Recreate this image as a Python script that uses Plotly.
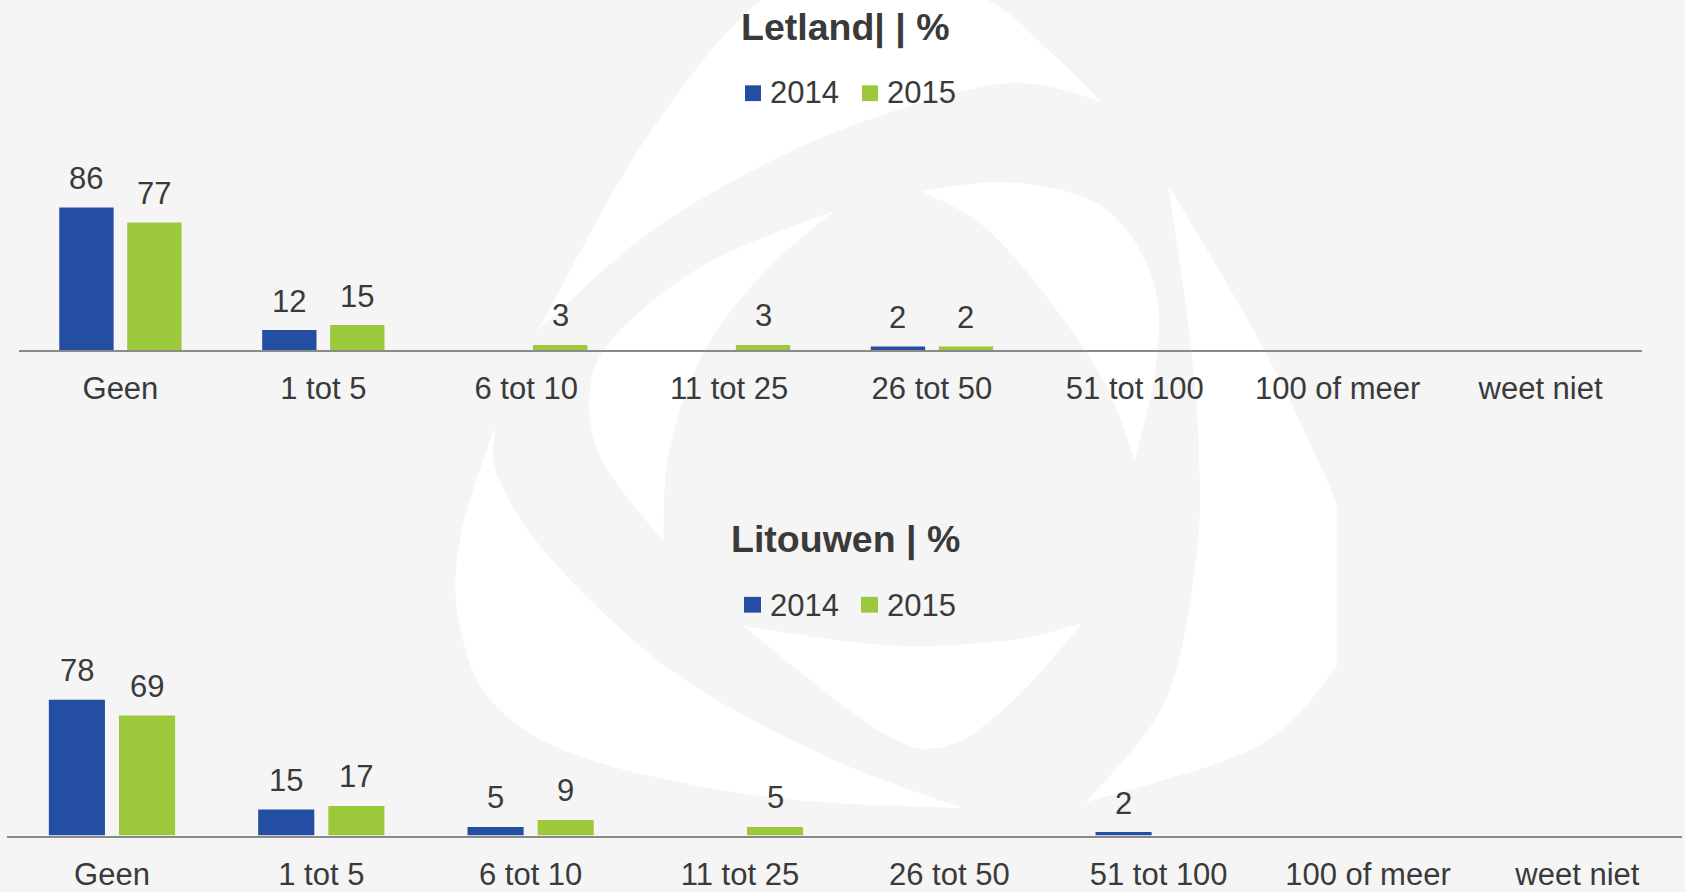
import plotly.graph_objects as go

W, H = 1685, 892

# ---------------- data ----------------
categories = ["Geen", "1 tot 5", "6 tot 10", "11 tot 25", "26 tot 50",
              "51 tot 100", "100 of meer", "weet niet"]
series_names = ["2014", "2015"]
letland_2014 = [86, 12, None, None, 2, None, None, None]
letland_2015 = [77, 15, 3, 3, 2, None, None, None]
litouwen_2014 = [78, 15, 5, None, None, 2, None, None]
litouwen_2015 = [69, 17, 9, 5, None, None, None, None]
titles = ["Letland| | %", "Litouwen | %"]

# ---------------- style ----------------
BLUE = "#244EA1"
GREEN = "#9CC93B"
TEXT = "#3a3a3a"
AXIS = "#8a8a8a"
BG = "#f5f5f5"
FONT = "Liberation Sans, Arial, sans-serif"
colors = [BLUE, GREEN]


def px(x):
    return x / W


def py(y):
    return 1 - y / H


YMAX = 120
BARGAP = 0.33
GROUPGAP = 0.2

panels = [
    dict(title=titles[0], s=[letland_2014, letland_2015], x0=19, x1=1642,
         axis_y=354.7, ppu=1.679, title_y=27.5, leg_y=93.5,
         leg_sq=[(745, 86.5, 761, 102.5), (862, 86.5, 878, 102.5)], leg_tx=[768, 885]),
    dict(title=titles[1], s=[litouwen_2014, litouwen_2015], x0=7.3, x1=1682,
         axis_y=847, ppu=1.766, title_y=546.5, leg_y=614,
         leg_sq=[(744, 605, 761, 621), (861, 605, 878, 621)], leg_tx=[768, 885]),
]

fig = go.Figure()
annotations = []
shapes = []

# ---------------- decorative watermark ----------------
def catmull(points):
    segs = []
    n = len(points)
    for i in range(n - 1):
        p0 = points[i - 1] if i > 0 else points[i]
        p1 = points[i]
        p2 = points[i + 1]
        p3 = points[i + 2] if i + 2 < n else points[i + 1]
        c1 = (p1[0] + (p2[0] - p0[0]) / 6, p1[1] + (p2[1] - p0[1]) / 6)
        c2 = (p2[0] - (p3[0] - p1[0]) / 6, p2[1] - (p3[1] - p1[1]) / 6)
        segs.append(f"C {px(c1[0]):.5f},{py(c1[1]):.5f} {px(c2[0]):.5f},{py(c2[1]):.5f} "
                    f"{px(p2[0]):.5f},{py(p2[1]):.5f}")
    return " ".join(segs)


def blade(edges):
    start = edges[0][0]
    d = f"M {px(start[0]):.5f},{py(start[1]):.5f} "
    for e in edges:
        if isinstance(e, str):
            d += e + " "
        else:
            d += catmull(e) + " "
    return d + "Z"


def L(p):
    return f"L {px(p[0]):.5f},{py(p[1]):.5f}"


wm = []
# top outer blade
wm.append(blade([
    [(537.8, 335.6), (644.9, 142.2), (761.2, 0), (875, -45), (987.7, 0), (1042.8, 45.5), (1101, 102.4)],
    [(1101, 102.4), (1012.2, 84.2), (889.8, 113.8), (767.3, 165), (644.9, 238.9), (537.8, 335.6)],
]))
# right outer blade
wm.append(blade([
    [(1168.3, 187.7), (1257, 341), (1318, 466.5), (1336.7, 512)],
    L((1336.7, 677)),
    [(1336.7, 677), (1257, 756.6), (1085.7, 813.5)],
    [(1085.7, 813.5), (1165, 711), (1195.9, 568.9), (1198.9, 455), (1189.7, 341), (1168.3, 187.7)],
]))
# bottom-left outer blade
wm.append(blade([
    [(494.9, 432.4), (461.2, 540.5), (458.2, 625.8), (491.8, 711), (583.7, 768), (767.3, 807.8), (963.2, 819.2)],
    [(963.2, 819.2), (828.5, 768), (675.5, 682.7), (553, 568.9), (498, 483.6), (494.9, 432.4)],
]))
# inner crescents
wm.append(blade([
    [(834.7, 213.3), (706.1, 267.4), (614.3, 341.3), (589.8, 398.2), (602, 466.5), (663.2, 549)],
    [(663.2, 549), (669.4, 455), (706.1, 352.7), (767.3, 273), (834.7, 213.3)],
]))
wm.append(blade([
    [(920.4, 193.4), (1012.2, 184.9), (1104, 210.5), (1153, 284.5), (1156, 369.8), (1134.7, 466.5)],
    [(1134.7, 466.5), (1104, 386.9), (1042.8, 295.8), (981.6, 227.6), (920.4, 193.4)],
]))
wm.append(blade([
    [(1082.6, 631.5), (1012.2, 711.1), (944.9, 756.6), (877.6, 739.6), (742.9, 634.3)],
    [(742.9, 634.3), (889.8, 654.2), (1012.2, 648.5), (1082.6, 631.5)],
]))
for d in wm:
    shapes.append(dict(type="path", path=d, xref="paper", yref="paper",
                       fillcolor="#ffffff", line=dict(width=0), layer="below"))

# ---------------- charts ----------------
for k, p in enumerate(panels):
    xa = "x" if k == 0 else f"x{k + 1}"
    ya = "y" if k == 0 else f"y{k + 1}"
    top_px = p["axis_y"] - YMAX * p["ppu"]
    cat_w = (p["x1"] - p["x0"]) / len(categories)
    slot = (1 - BARGAP) / 2 * cat_w
    for j, (vals, name) in enumerate(zip(p["s"], series_names)):
        fig.add_trace(go.Bar(
            x=categories, y=vals, name=name, xaxis=xa, yaxis=ya,
            marker=dict(color=colors[j], line=dict(width=0)),
            showlegend=False, hoverinfo="x+y+name",
        ))
        off = (j - 0.5) * slot
        for c, v in zip(categories, vals):
            if v is None:
                continue
            annotations.append(dict(
                x=c, y=v, xref=xa, yref=ya, text=str(v), showarrow=False,
                xanchor="center", yanchor="bottom", xshift=off, yshift=9.5,
                font=dict(family=FONT, size=31, color=TEXT),
            ))
    axis_key = "xaxis" if k == 0 else f"xaxis{k + 1}"
    yaxis_key = "yaxis" if k == 0 else f"yaxis{k + 1}"
    fig.update_layout(**{
        axis_key: dict(
            domain=[px(p["x0"]), px(p["x1"])], anchor=ya,
            type="category", categoryorder="array", categoryarray=categories,
            showline=True, linecolor=AXIS, linewidth=2, showgrid=False,
            zeroline=False, ticks="", ticklabelstandoff=10,
            tickfont=dict(family=FONT, size=31, color=TEXT),
        ),
        yaxis_key: dict(
            domain=[py(p["axis_y"]), py(top_px)], anchor=xa,
            range=[0, YMAX], showgrid=False, zeroline=False,
            showticklabels=False, showline=False, ticks="",
        ),
    })
    # title
    annotations.append(dict(
        x=px(845), y=py(p["title_y"]), xref="paper", yref="paper",
        text=f"<b>{p['title']}</b>", showarrow=False,
        xanchor="center", yanchor="middle",
        font=dict(family=FONT, size=37.5, color=TEXT),
    ))
    # legend (squares + labels)
    for j, name in enumerate(series_names):
        x0, y0, x1, y1 = p["leg_sq"][j]
        shapes.append(dict(type="rect", xref="paper", yref="paper",
                           x0=px(x0), x1=px(x1), y0=py(y1), y1=py(y0),
                           fillcolor=colors[j], line=dict(width=0)))
        annotations.append(dict(
            x=px(p["leg_tx"][j]), y=py(p["leg_y"]), xref="paper", yref="paper",
            text=name, showarrow=False, xanchor="left", yanchor="middle",
            font=dict(family=FONT, size=31, color=TEXT),
        ))

fig.update_layout(
    width=W, height=H,
    margin=dict(l=0, r=0, t=0, b=0),
    paper_bgcolor=BG, plot_bgcolor="rgba(0,0,0,0)",
    barmode="group", bargap=BARGAP, bargroupgap=GROUPGAP,
    showlegend=False,
    annotations=annotations, shapes=shapes,
    font=dict(family=FONT, color=TEXT),
)

fig.write_html(
    "out.html",
    config={"displayModeBar": False},
    post_script="document.body.style.margin='0';document.body.style.overflow='hidden';",
)
